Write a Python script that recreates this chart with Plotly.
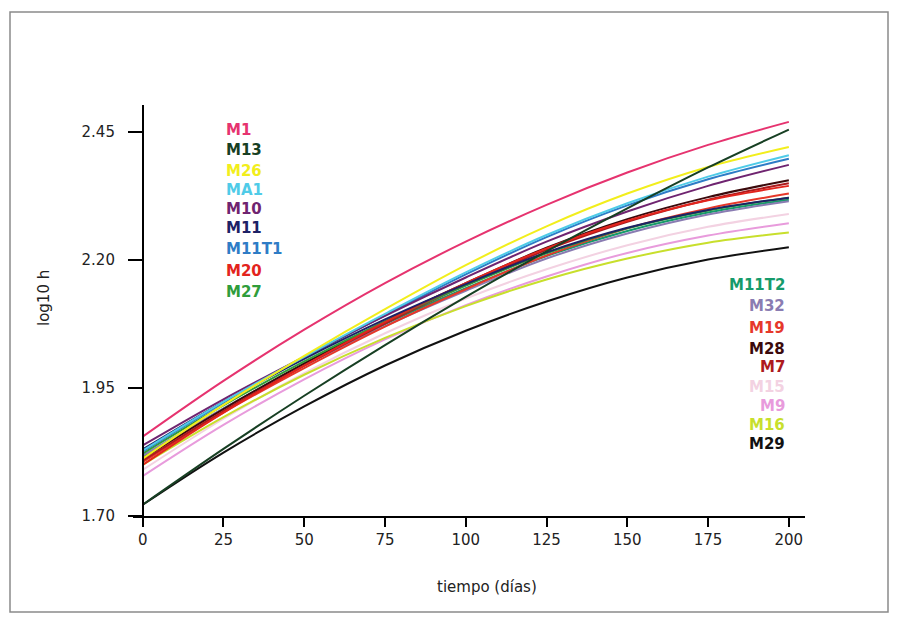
import plotly.graph_objects as go

dias = [0, 25, 50, 75, 100, 125, 150, 175, 200]

M1    = [1.855, 1.964, 2.064, 2.155, 2.236, 2.308, 2.371, 2.425, 2.470]
M13   = [1.722, 1.831, 1.935, 2.034, 2.128, 2.217, 2.301, 2.381, 2.455]
M26   = [1.812, 1.917, 2.013, 2.104, 2.190, 2.266, 2.330, 2.382, 2.421]
MA1   = [1.828, 1.923, 2.011, 2.095, 2.176, 2.249, 2.311, 2.363, 2.405]
M10   = [1.838, 1.928, 2.011, 2.091, 2.166, 2.236, 2.295, 2.345, 2.386]
M11   = [1.830, 1.923, 2.007, 2.084, 2.153, 2.215, 2.263, 2.298, 2.322]
M11T1 = [1.826, 1.921, 2.009, 2.092, 2.172, 2.245, 2.307, 2.358, 2.398]
M20   = [1.800, 1.902, 1.994, 2.079, 2.155, 2.223, 2.277, 2.317, 2.345]
M27   = [1.822, 1.916, 2.002, 2.080, 2.150, 2.213, 2.262, 2.297, 2.322]
M11T2 = [1.815, 1.910, 1.996, 2.075, 2.145, 2.208, 2.257, 2.293, 2.318]
M32   = [1.818, 1.910, 1.994, 2.071, 2.140, 2.203, 2.252, 2.289, 2.315]
M19   = [1.805, 1.902, 1.989, 2.070, 2.143, 2.209, 2.262, 2.301, 2.330]
M28   = [1.812, 1.909, 1.998, 2.080, 2.155, 2.224, 2.280, 2.323, 2.356]
M7    = [1.808, 1.905, 1.994, 2.076, 2.151, 2.220, 2.275, 2.318, 2.350]
M15   = [1.790, 1.890, 1.979, 2.057, 2.125, 2.182, 2.229, 2.265, 2.290]
M9    = [1.778, 1.878, 1.967, 2.045, 2.112, 2.168, 2.214, 2.248, 2.272]
M16   = [1.800, 1.893, 1.976, 2.048, 2.110, 2.162, 2.203, 2.234, 2.254]
M29   = [1.722, 1.824, 1.914, 1.994, 2.062, 2.119, 2.166, 2.201, 2.225]

series_names = ["M1", "M13", "M26", "MA1", "M10", "M11", "M11T1", "M20", "M27",
                "M11T2", "M32", "M19", "M28", "M7", "M15", "M9", "M16", "M29"]
series_values = [M1, M13, M26, MA1, M10, M11, M11T1, M20, M27,
                 M11T2, M32, M19, M28, M7, M15, M9, M16, M29]
series_colors = ["#e6336f", "#173f23", "#f2ee1c", "#4fcbe8", "#6f2470", "#1d2266",
                 "#2e7cc6", "#e3241d", "#2f9d3b", "#169b6b", "#8a7cb2", "#e6382a",
                 "#3b0a0c", "#ad1a1d", "#f3d2e2", "#e89bdc", "#c8df2c", "#111111"]

y_ticks = [1.70, 1.95, 2.20, 2.45]
x_ticks = [0, 25, 50, 75, 100, 125, 150, 175, 200]

fig = go.Figure()
order = [9, 10, 11, 12, 13, 14, 15, 16, 17, 8, 7, 6, 5, 4, 3, 2, 1, 0]
for i in order:
    fig.add_trace(go.Scatter(x=dias, y=series_values[i], mode="lines",
                             line=dict(color=series_colors[i], width=2, shape="spline"),
                             name=series_names[i], showlegend=False))

# page offset (body margin) and plot area in page pixels
OFF = 8
FW, FH = 898 - OFF, 624 - OFF
L, R, T, B = 133, 805, 105, 516
W, H = R - L, B - T


def px(xp):
    return (xp - L) / W


def py(yp):
    return (B - yp) / H


annotations = []
left_y = [130, 150, 171, 190, 209, 228, 249, 271, 292]
for k in range(9):
    annotations.append(dict(x=px(224), y=py(left_y[k]), xref="paper", yref="paper",
                            text="<b>%s</b>" % series_names[k], showarrow=False,
                            xanchor="left", yanchor="middle",
                            font=dict(family="DejaVu Sans", size=15, color=series_colors[k])))
right_y = [285, 306, 328, 349, 367, 387, 406, 425, 444]
for k in range(9):
    j = k + 9
    annotations.append(dict(x=px(787), y=py(right_y[k]), xref="paper", yref="paper",
                            text="<b>%s</b>" % series_names[j], showarrow=False,
                            xanchor="right", yanchor="middle",
                            font=dict(family="DejaVu Sans", size=15, color=series_colors[j])))
annotations.append(dict(x=px(487), y=py(587), xref="paper", yref="paper",
                        text="tiempo (días)", showarrow=False, xanchor="center", yanchor="middle",
                        font=dict(family="DejaVu Sans", size=15, color="#222")))
annotations.append(dict(x=px(44), y=py(298), xref="paper", yref="paper",
                        text="log10 h", showarrow=False, textangle=-90,
                        xanchor="center", yanchor="middle",
                        font=dict(family="DejaVu Sans", size=15, color="#222")))

shapes = [dict(type="rect", xref="paper", yref="paper",
               x0=px(10), x1=px(888), y0=py(612), y1=py(12),
               line=dict(color="#8a8a8a", width=1.5), fillcolor="rgba(0,0,0,0)", layer="below")]

xr = [-3, 205]
fig.update_layout(
    width=FW, height=FH,
    margin=dict(l=L - OFF, r=898 - R, t=T - OFF, b=624 - B),
    paper_bgcolor="white", plot_bgcolor="white",
    annotations=annotations, shapes=shapes,
    xaxis=dict(range=xr, tickvals=x_ticks, ticktext=[str(v) for v in x_ticks],
               showline=True, linecolor="black", linewidth=1.5, ticks="outside",
               ticklen=9, tickwidth=1.5, tickcolor="black", showgrid=False, zeroline=False,
               tickfont=dict(family="DejaVu Sans", size=15, color="#222")),
    yaxis=dict(range=[1.70, 2.503], tickvals=y_ticks, ticktext=["%.2f" % v for v in y_ticks],
               anchor="free", position=(0 - xr[0]) / (xr[1] - xr[0]),
               showline=True, linecolor="black", linewidth=1.5, ticks="outside",
               ticklen=14, tickwidth=1.5, tickcolor="black", showgrid=False, zeroline=False,
               ticklabelstandoff=10,
               tickfont=dict(family="DejaVu Sans", size=15, color="#222")),
)

fig.write_html("out.html")
